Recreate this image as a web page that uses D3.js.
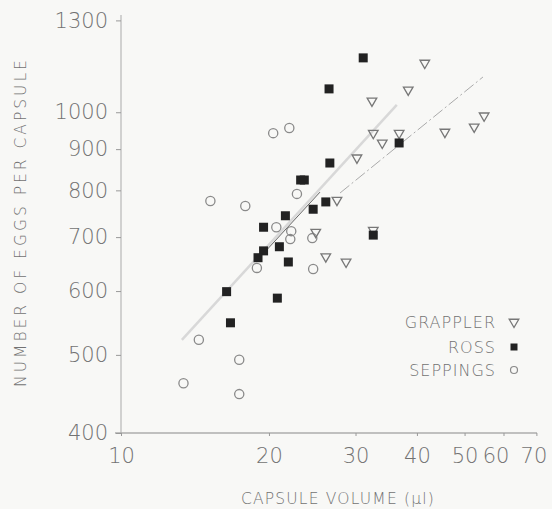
<!DOCTYPE html>
<html><head><meta charset="utf-8">
<script src="https://cdn.jsdelivr.net/npm/d3@7"></script>
<style>
html,body{margin:0;padding:0;background:#f8f8f6;}
svg text{font-family:"DejaVu Sans","Lato",sans-serif;font-weight:200;fill:#727272;}
</style></head>
<body><svg id="c" width="552" height="509"></svg>
<script>
// ---- data ----
const xTicks = [10, 20, 30, 40, 50, 60, 70];
const yTicks = [400, 500, 600, 700, 800, 900, 1000, 1300];

const grapplerX = [41.5, 38.4, 32.4, 32.6, 34.0, 30.2, 45.6, 52.3, 54.8, 27.5, 24.9, 26.1, 28.7, 32.6, 36.8];
const grapplerY = [1151, 1066, 1033, 942, 916, 878, 945, 959, 990, 778, 710, 662, 652, 714, 942];

const rossX = [31.1, 26.5, 26.6, 23.2, 23.6, 26.1, 24.6, 21.6, 19.5, 21.0, 19.5, 19.0, 21.9, 20.8, 16.4, 16.7, 32.6, 36.8];
const rossY = [1168, 1069, 865, 824, 824, 774, 758, 744, 720, 681, 673, 660, 652, 588, 599, 548, 704, 916];

const seppingsX = [13.4, 14.4, 15.2, 17.9, 17.4, 17.4, 20.4, 22.0, 22.8, 20.7, 22.2, 22.1, 18.9, 24.5, 24.6];
const seppingsY = [461, 522, 776, 765, 493, 447, 942, 956, 792, 720, 712, 696, 641, 698, 639];

// regression lines: [x1, y1, x2, y2]
const lineA = [13.3, 522, 36.4, 1021];
const lineAdark = [19.8, 675, 25.4, 796];
const lineB = [27.9, 794, 54.5, 1106];

const legendNames = ["GRAPPLER", "ROSS", "SEPPINGS"];

// ---- chart ----
const svg = d3.select("#c");
const x = d3.scaleLog().domain([10, 70]).range([121, 536.4]);
const y = d3.scaleLog().domain([400, 1300]).range([433, 20.4]);

// axes
const xAxis = d3.axisBottom(x).tickValues(xTicks).tickFormat(d3.format("d")).tickSize(3).tickPadding(7);
const gx = svg.append("g").attr("transform", "translate(0,433)").call(xAxis);
gx.select(".domain").attr("d", "M115,0H537").attr("stroke", "#888");
gx.selectAll(".tick line").attr("stroke", "#999");
gx.selectAll(".tick text").style("font-size", "21px").attr("dy", "0.95em")
  .attr("dx", d => d === 60 ? -8 : d === 70 ? -3 : 0);

const yAxis = d3.axisLeft(y).tickValues(yTicks).tickFormat(d3.format("d")).tickSize(5).tickPadding(8);
const gy = svg.append("g").attr("transform", "translate(121,0)").call(yAxis);
gy.select(".domain").attr("d", "M0,433V15").attr("stroke", "#aaa");
gy.selectAll(".tick line").attr("stroke", "#999");
gy.selectAll(".tick text").style("font-size", "21px");

// axis titles
svg.append("text").attr("transform", "translate(26,222) rotate(-90)")
  .attr("text-anchor", "middle").style("font-size", "15.5px").style("letter-spacing", "3px")
  .text("NUMBER OF EGGS PER CAPSULE");
svg.append("text").attr("x", 338).attr("y", 504)
  .attr("text-anchor", "middle").style("font-size", "15.5px").style("letter-spacing", "1.2px")
  .text("CAPSULE VOLUME (µl)");

// lines
function seg(a, stroke, w, dash) {
  svg.append("line").attr("x1", x(a[0])).attr("y1", y(a[1])).attr("x2", x(a[2])).attr("y2", y(a[3]))
    .attr("stroke", stroke).attr("stroke-width", w).attr("stroke-dasharray", dash);
}
seg(lineA, "#d8d8d8", 2.5, null);
seg(lineAdark, "#666", 1, null);
seg(lineB, "#aaa", 1, "12,3,2,3");

// markers
const tri = d3.symbol().type(d3.symbolTriangle).size(40);
function drawTri(g, cx, cy) {
  g.append("path").attr("d", tri()).attr("transform", `translate(${cx},${cy}) rotate(180)`)
    .attr("fill", "none").attr("stroke", "#777").attr("stroke-width", 1.3);
}
function drawSq(g, cx, cy) {
  g.append("rect").attr("x", cx - 4.5).attr("y", cy - 4.5).attr("width", 9).attr("height", 9).attr("fill", "#222");
}
function drawCirc(g, cx, cy) {
  g.append("circle").attr("cx", cx).attr("cy", cy).attr("r", 4.6)
    .attr("fill", "none").attr("stroke", "#8a8a8a").attr("stroke-width", 1.3);
}
const gm = svg.append("g");
seppingsX.forEach((v, i) => drawCirc(gm, x(v), y(seppingsY[i])));
grapplerX.forEach((v, i) => drawTri(gm, x(v), y(grapplerY[i])));
rossX.forEach((v, i) => drawSq(gm, x(v), y(rossY[i])));

// legend
const lg = svg.append("g");
const lgY = [322, 347, 370];
legendNames.forEach((n, i) => {
  lg.append("text").attr("x", 496).attr("y", lgY[i]).attr("dy", "0.35em")
    .attr("text-anchor", "end").style("font-size", "16px").style("letter-spacing", "1px").text(n);
});
drawTri(lg, 514, lgY[0]);
lg.append("rect").attr("x", 510.5).attr("y", lgY[1] - 3.5).attr("width", 7).attr("height", 7).attr("fill", "#222");
lg.append("circle").attr("cx", 514).attr("cy", lgY[2]).attr("r", 3.5).attr("fill", "none").attr("stroke", "#8a8a8a").attr("stroke-width", 1.2);
</script></body></html>
